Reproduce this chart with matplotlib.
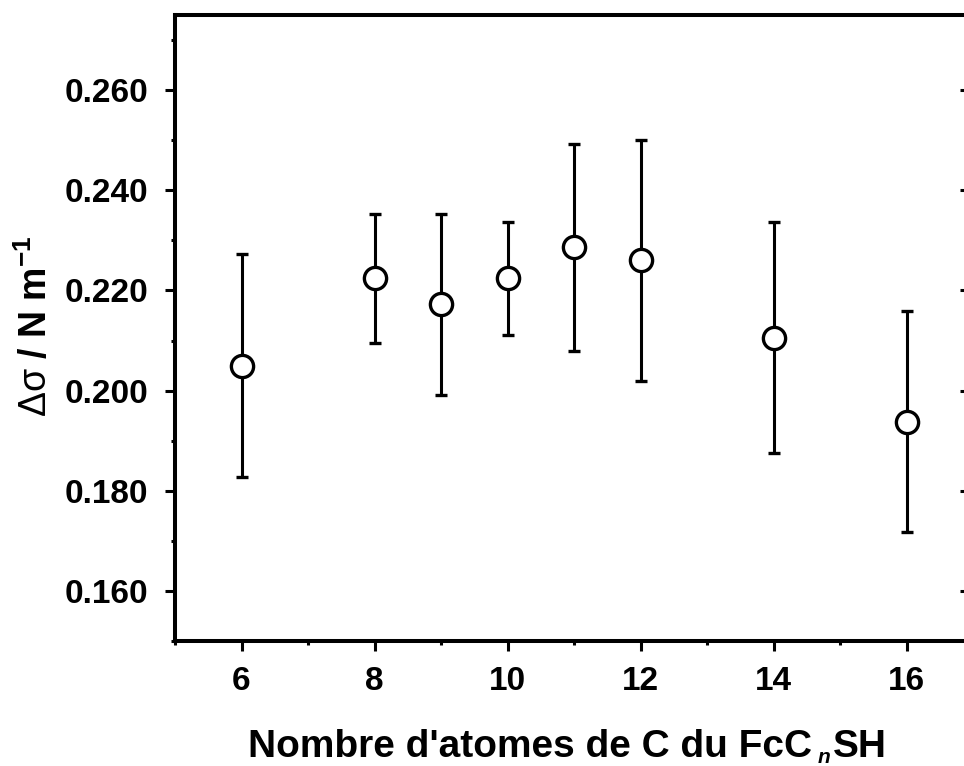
import matplotlib
matplotlib.use("Agg")
import matplotlib.pyplot as plt
from matplotlib.ticker import MultipleLocator, FormatStrFormatter

plt.rcParams['font.family'] = ['Liberation Sans', 'DejaVu Sans']
plt.rcParams['mathtext.fontset'] = 'custom'
plt.rcParams['mathtext.rm'] = 'Liberation Sans'
plt.rcParams['mathtext.it'] = 'Liberation Sans:italic:bold'
plt.rcParams['mathtext.bf'] = 'Liberation Sans:bold'

# Carbon count of the FcCnSH chain and measured surface tension change
n_carbons = [6, 8, 9, 10, 11, 12, 14, 16]
delta_sigma = [0.2050, 0.2224, 0.2172, 0.2224, 0.2286, 0.2260, 0.2106, 0.1938]
sigma_err = [0.0222, 0.0129, 0.0181, 0.0112, 0.0207, 0.0240, 0.0230, 0.0220]

x_ticks = [6, 8, 10, 12, 14, 16]
y_ticks = [0.16, 0.18, 0.20, 0.22, 0.24, 0.26]

W, H = 964, 766
fig = plt.figure(figsize=(W / 100, H / 100), dpi=100)
left, right, top, bottom = 175, 973, 15, 641
ax = fig.add_axes([left / W, (H - bottom) / H, (right - left) / W, (bottom - top) / H])

ax.errorbar(n_carbons, delta_sigma, yerr=sigma_err, fmt='o', color='black',
            ecolor='black', elinewidth=2.2, capsize=4.3, capthick=2.2,
            markersize=16, markerfacecolor='white', markeredgecolor='black',
            markeredgewidth=2.4, zorder=3)

ax.set_xlim(5, 17)
ax.set_ylim(0.15, 0.275)
ax.set_xticks(x_ticks)
ax.xaxis.set_minor_locator(MultipleLocator(1))
ax.set_yticks(y_ticks)
ax.yaxis.set_minor_locator(MultipleLocator(0.01))
ax.yaxis.set_major_formatter(FormatStrFormatter('%.3f'))

for s in ax.spines.values():
    s.set_linewidth(2.9)
ax.spines['right'].set_visible(False)

ax.tick_params(axis='both', which='major', direction='out', length=7.2, width=2.2,
               labelsize=24)
ax.tick_params(axis='both', which='minor', direction='out', length=3, width=2.2)
ax.tick_params(axis='x', which='major', pad=11)
ax.tick_params(axis='y', which='major', pad=12)
for lab in ax.get_xticklabels() + ax.get_yticklabels():
    lab.set_fontweight('bold')

# inward major ticks on the right side
ax2 = ax.twinx()
ax2.set_ylim(ax.get_ylim())
ax2.set_yticks(y_ticks)
ax2.tick_params(axis='y', which='major', direction='in', length=9.5, width=2.2,
                labelright=False)
for s in ax2.spines.values():
    s.set_visible(False)

ax.set_ylabel(r"$\mathrm{\Delta\sigma}$ / N m$^{\mathbf{-1}}$",
              fontsize=27, fontweight='bold')
ax.yaxis.set_label_coords(36 / W, 1 - 326 / H, transform=fig.transFigure)
ax.yaxis.label.set_va('center')

# x label assembled from pieces so the subscript n sits well below the baseline
renderer = fig.canvas.get_renderer()
x0 = 248
base = H - 757
t1 = fig.text(x0 / W, base / H, "Nombre d'atomes de C du FcC", fontsize=28,
              fontweight='bold', ha='left', va='baseline')
e1 = t1.get_window_extent(renderer)
t2 = fig.text((e1.x1 + 6) / W, (H - 763) / H, "n", fontsize=15,
              fontweight='bold', fontstyle='italic', ha='left', va='baseline')
e2 = t2.get_window_extent(renderer)
fig.text((e2.x1 + 2) / W, base / H, "SH", fontsize=28, fontweight='bold',
         ha='left', va='baseline')

fig.savefig('out.png', dpi=100)
